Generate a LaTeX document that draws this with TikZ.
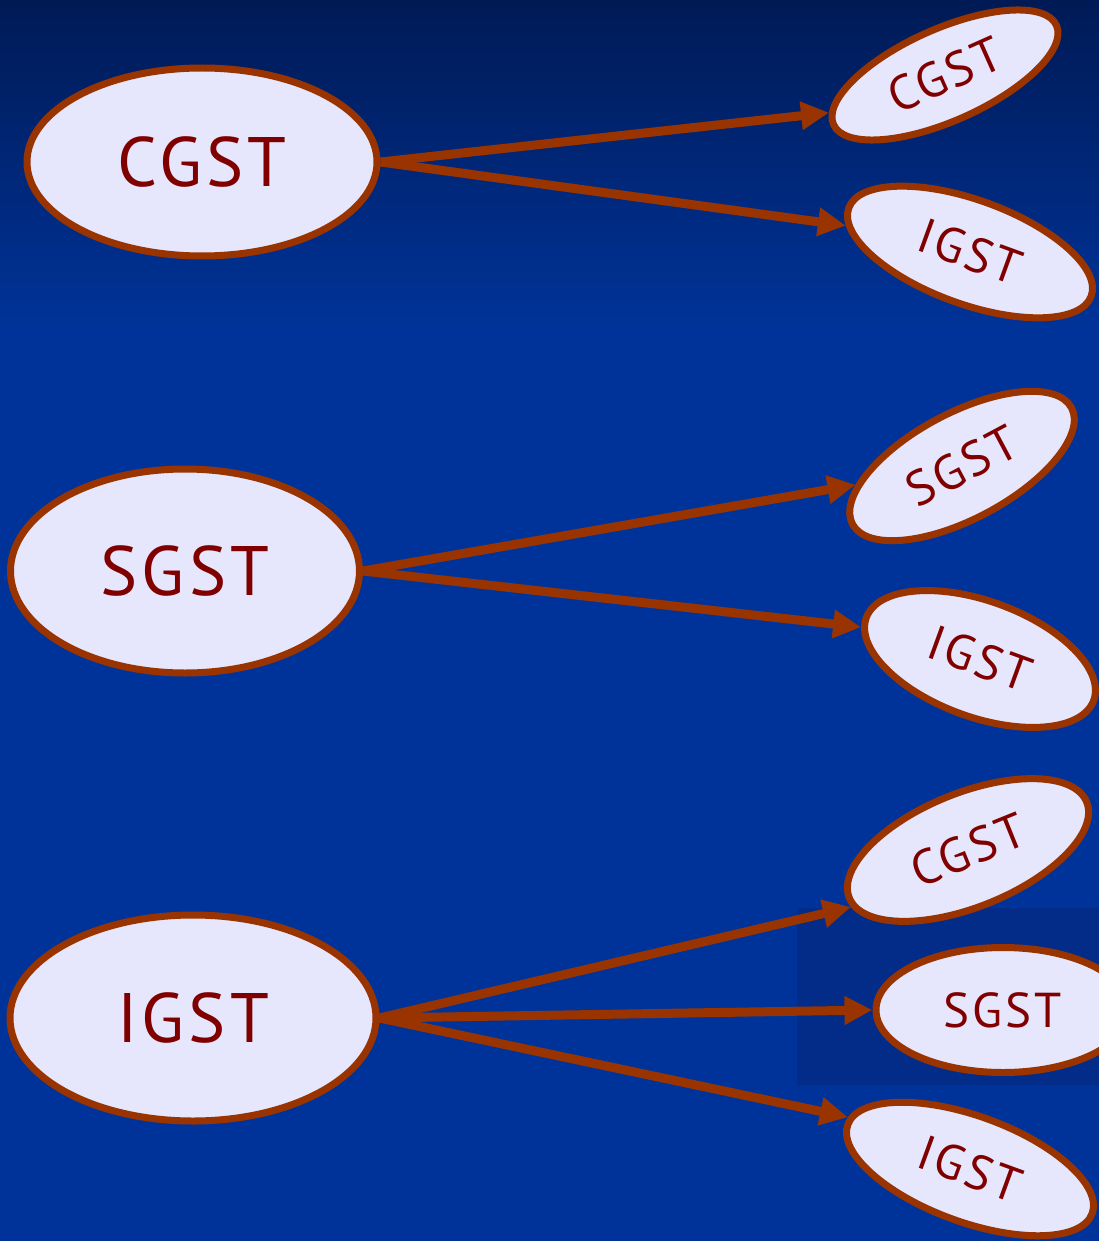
\documentclass[tikz,border=0pt]{standalone}
\usepackage{fontspec}
\setmainfont{PT Sans}[LetterSpace=6]
\usetikzlibrary{shapes.geometric,arrows.meta}
\definecolor{bgtop}{HTML}{001A55}
\definecolor{bgmain}{HTML}{003399}
\definecolor{bgdark}{HTML}{032C88}
\definecolor{nodefill}{HTML}{E6E6FC}
\definecolor{nodeline}{HTML}{993300}
\definecolor{textred}{HTML}{800000}
\tikzset{
  bigell/.style={ellipse, draw=nodeline, line width=7pt, fill=nodefill, inner sep=0pt,
    text=textred, font=\fontsize{70}{80}\selectfont},
  smallell/.style={ellipse, draw=nodeline, line width=7pt, fill=nodefill, inner sep=0pt,
    text=textred, font=\fontsize{49}{56}\selectfont},
  conn/.style={draw=nodeline, line width=9pt, -{Triangle[length=28pt,width=27pt]}}
}
\begin{document}
\begin{tikzpicture}[x=1pt,y=-1pt]
\useasboundingbox (0,0) rectangle (1099,1241);
% background
\fill[bgmain] (0,0) rectangle (1099,1241);
\shade[top color=bgtop, bottom color=bgmain] (0,0) rectangle (1099,330);
\fill[bgdark] (797,908) rectangle (1099,1085);
% big nodes
\node[bigell, minimum width=350pt, minimum height=188pt] (c) at (202,162) {CGST};
\node[bigell, minimum width=349pt, minimum height=204pt] (s) at (185,571) {SGST};
\node[bigell, minimum width=366pt, minimum height=206pt] (i) at (193,1018) {IGST};
% small nodes
\node[smallell, rotate=24, minimum width=244pt, minimum height=92pt] (c1) at (945,75) {CGST};
\node[smallell, rotate=-20, minimum width=258pt, minimum height=104pt] (c2) at (970,252) {IGST};
\node[smallell, rotate=28, minimum width=248pt, minimum height=106pt] (s1) at (962,466) {SGST};
\node[smallell, rotate=-20, minimum width=242pt, minimum height=116pt] (s2) at (980,659) {IGST};
\node[smallell, rotate=22, minimum width=256pt, minimum height=114pt] (i1) at (968,850) {CGST};
\node[smallell, minimum width=254pt, minimum height=125pt] (i2) at (1003,1010) {SGST};
\node[smallell, rotate=-20, minimum width=260pt, minimum height=106pt] (i3) at (970,1169) {IGST};
% connectors
\draw[conn] (c.east) -- (c1.174);
\draw[conn] (c.east) -- (c2.188);
\draw[conn] (s.east) -- (s1.162);
\draw[conn] (s.east) -- (s2.185);
\draw[conn] (i.east) -- (i1.184);
\draw[conn] (i.east) -- (i2.west);
\draw[conn] (i.east) -- (i3.177);
\end{tikzpicture}
\end{document}
